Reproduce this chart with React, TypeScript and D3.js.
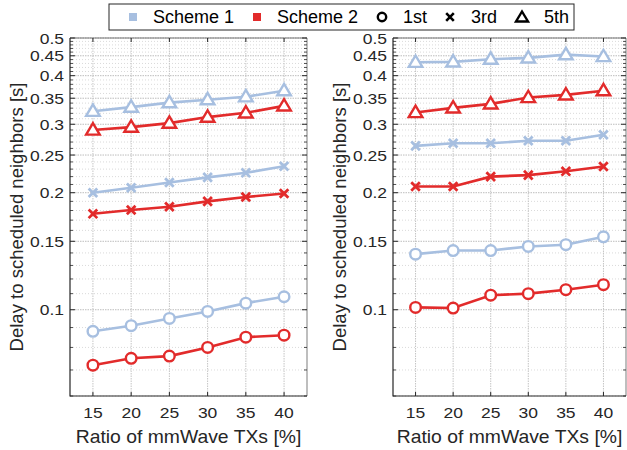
import React from "react";
import * as d3 from "d3";

const ratios = [15, 20, 25, 30, 35, 40];

// left panel
const leftS1First = [0.088, 0.091, 0.095, 0.099, 0.104, 0.108];
const leftS1Third = [0.2, 0.206, 0.2125, 0.219, 0.225, 0.234];
const leftS1Fifth = [0.324, 0.332, 0.341, 0.347, 0.353, 0.366];
const leftS2First = [0.072, 0.075, 0.076, 0.08, 0.085, 0.086];
const leftS2Third = [0.1765, 0.1805, 0.184, 0.19, 0.195, 0.199];
const leftS2Fifth = [0.29, 0.295, 0.302, 0.313, 0.321, 0.3345];

// right panel
const rightS1First = [0.139, 0.142, 0.142, 0.1455, 0.147, 0.154];
const rightS1Third = [0.264, 0.268, 0.268, 0.272, 0.272, 0.282];
const rightS1Fifth = [0.433, 0.434, 0.441, 0.4445, 0.453, 0.448];
const rightS2First = [0.1014, 0.101, 0.109, 0.11, 0.1126, 0.116];
const rightS2Third = [0.2075, 0.2075, 0.22, 0.222, 0.227, 0.2335];
const rightS2Fifth = [0.3216, 0.3306, 0.3385, 0.3514, 0.357, 0.366];

const yTicks = [0.1, 0.15, 0.2, 0.25, 0.3, 0.35, 0.4, 0.45, 0.5];
const yTickLabels = ["0.1", "0.15", "0.2", "0.25", "0.3", "0.35", "0.4", "0.45", "0.5"];
const legendSchemes = ["Scheme 1", "Scheme 2"];
const legendMarkers = ["1st", "3rd", "5th"];

const BLUE = "#a7bfe0";
const RED = "#e22b2b";
const AX = "#262626";
const FONT = "'Liberation Sans', Arial, Helvetica, sans-serif";

// minor ticks every 0.01
const minorTicks = d3
  .range(6, 51)
  .map((d) => d / 100)
  .filter((v) => !yTicks.some((t) => Math.abs(t - v) < 1e-9));

// the original font renders a bit wider than Liberation Sans, so stretch it
const SText = ({ x, y, sx = 1, anchor = "start", size, rotate = 0, dy = "0", children }) => (
  <text
    transform={`translate(${x},${y}) rotate(${rotate}) scale(${sx},1)`}
    textAnchor={anchor}
    fontSize={size}
    dy={dy}
    fill={AX}
  >
    {children}
  </text>
);

const Marker = ({ type, x, y, color, sw = 2.4 }) => {
  if (type === "circle")
    return <circle cx={x} cy={y} r={5.3} fill="#fff" stroke={color} strokeWidth={sw} />;
  if (type === "cross") {
    const s = 4.3;
    return (
      <path
        d={`M${x - s},${y - s}L${x + s},${y + s}M${x - s},${y + s}L${x + s},${y - s}`}
        stroke={color}
        strokeWidth={sw + 0.4}
        fill="none"
      />
    );
  }
  return (
    <path
      d={`M${x},${y - 6.8}L${x + 6.8},${y + 4.6}L${x - 6.8},${y + 4.6}Z`}
      fill="#fff"
      stroke={color}
      strokeWidth={sw}
    />
  );
};

const Panel = ({ left, right, series }) => {
  const top = 38;
  const bottom = 396;
  const x = d3.scaleLinear().domain([12, 43]).range([left, right]);
  const y = d3.scaleLog().domain([0.06, 0.5]).range([bottom, top]);
  const line = d3
    .line<number>()
    .x((_, i) => x(ratios[i]))
    .y((d) => y(d));

  return (
    <g>
      <rect x={left} y={top} width={right - left} height={bottom - top} fill="#fff" />
      {/* minor grid */}
      {minorTicks.map((t) => (
        <line
          key={"m" + t}
          x1={left}
          x2={right}
          y1={y(t)}
          y2={y(t)}
          stroke="#d0d0d0"
          strokeWidth={0.8}
          strokeDasharray="1,2"
        />
      ))}
      {/* major grid */}
      {yTicks.map((t) => (
        <line
          key={"g" + t}
          x1={left}
          x2={right}
          y1={y(t)}
          y2={y(t)}
          stroke="#bdbdbd"
          strokeWidth={1}
          strokeDasharray="1.5,1"
        />
      ))}
      {ratios.map((r) => (
        <line
          key={"gx" + r}
          x1={x(r)}
          x2={x(r)}
          y1={top}
          y2={bottom}
          stroke="#c4c4c4"
          strokeWidth={1}
          strokeDasharray="1.5,1"
        />
      ))}
      {/* series */}
      {series.map((s, i) => (
        <g key={i}>
          <path d={line(s.values)} fill="none" stroke={s.color} strokeWidth={2.6} />
          {s.values.map((v, j) => (
            <Marker key={j} type={s.marker} x={x(ratios[j])} y={y(v)} color={s.color} />
          ))}
        </g>
      ))}
      {/* axes box */}
      <path
        d={`M${left},${top}V${bottom}H${right}`}
        fill="none"
        stroke={AX}
        strokeWidth={1.2}
      />
      <line x1={left} x2={right} y1={top} y2={top} stroke={AX} strokeWidth={0.6} />
      <line x1={right} x2={right} y1={top} y2={bottom} stroke={AX} strokeWidth={0.6} />
      {/* y ticks */}
      {yTicks.map((t) => (
        <g key={"t" + t}>
          <line x1={left} x2={left + 5} y1={y(t)} y2={y(t)} stroke={AX} strokeWidth={1} />
          <line x1={right} x2={right - 5} y1={y(t)} y2={y(t)} stroke={AX} strokeWidth={1} />
        </g>
      ))}
      {minorTicks.map((t) => (
        <g key={"mt" + t}>
          <line x1={left} x2={left + 3} y1={y(t)} y2={y(t)} stroke={AX} strokeWidth={0.8} />
          <line x1={right} x2={right - 3} y1={y(t)} y2={y(t)} stroke={AX} strokeWidth={0.8} />
        </g>
      ))}
      {ratios.map((r) => (
        <g key={"xt" + r}>
          <line x1={x(r)} x2={x(r)} y1={bottom} y2={bottom - 4} stroke={AX} strokeWidth={1} />
          <line x1={x(r)} x2={x(r)} y1={top} y2={top + 4} stroke={AX} strokeWidth={1} />
        </g>
      ))}
      {/* tick labels */}
      {yTicks.map((t, i) => (
        <SText key={"yl" + t} x={left - 6} y={y(t)} dy="0.36em" anchor="end" size={15.5} sx={1.13}>
          {yTickLabels[i]}
        </SText>
      ))}
      {ratios.map((r) => (
        <SText key={"xl" + r} x={x(r)} y={418} anchor="middle" size={15.5} sx={1.13}>
          {r}
        </SText>
      ))}
      <SText x={(left + right) / 2} y={443} anchor="middle" size={18} sx={1.075}>
        Ratio of mmWave TXs [%]
      </SText>
      <SText
        x={left - 47}
        y={(top + bottom) / 2}
        rotate={-90}
        anchor="middle"
        size={18}
        sx={1.03}
      >
        Delay to scheduled neighbors [s]
      </SText>
    </g>
  );
};

const Legend = () => {
  const items = [
    { kind: "square", color: BLUE, label: legendSchemes[0], mx: 133, tx: 153 },
    { kind: "square", color: RED, label: legendSchemes[1], mx: 257, tx: 277 },
    { kind: "circle", color: "#000", label: legendMarkers[0], mx: 382, tx: 403 },
    { kind: "cross", color: "#000", label: legendMarkers[1], mx: 450, tx: 471 },
    { kind: "triangle", color: "#000", label: legendMarkers[2], mx: 522, tx: 544 },
  ];
  const cy = 17;
  return (
    <g>
      <rect x={109} y={4} width={465} height={26} fill="#fff" stroke={AX} strokeWidth={1} />
      {items.map((it) => (
        <g key={it.label}>
          {it.kind === "square" ? (
            <rect x={it.mx - 4} y={cy - 4} width={8} height={8} fill={it.color} />
          ) : it.kind === "circle" ? (
            <circle cx={it.mx} cy={cy} r={4.2} fill="none" stroke="#000" strokeWidth={2.4} />
          ) : it.kind === "cross" ? (
            <path
              d={`M${it.mx - 3.8},${cy - 3.8}L${it.mx + 3.8},${cy + 3.8}M${it.mx - 3.8},${cy + 3.8}L${it.mx + 3.8},${cy - 3.8}`}
              stroke="#000"
              strokeWidth={2.6}
            />
          ) : (
            <path
              d={`M${it.mx},${cy - 5.5}L${it.mx + 6},${cy + 4.5}L${it.mx - 6},${cy + 4.5}Z`}
              fill="none"
              stroke="#000"
              strokeWidth={2.4}
            />
          )}
          <text x={it.tx} y={cy} dy="0.36em" fontSize={18} fill="#000">
            {it.label}
          </text>
        </g>
      ))}
    </g>
  );
};

export default function App() {
  const leftSeries = [
    { values: leftS1Fifth, color: BLUE, marker: "triangle" },
    { values: leftS1Third, color: BLUE, marker: "cross" },
    { values: leftS1First, color: BLUE, marker: "circle" },
    { values: leftS2Fifth, color: RED, marker: "triangle" },
    { values: leftS2Third, color: RED, marker: "cross" },
    { values: leftS2First, color: RED, marker: "circle" },
  ];
  const rightSeries = [
    { values: rightS1Fifth, color: BLUE, marker: "triangle" },
    { values: rightS1Third, color: BLUE, marker: "cross" },
    { values: rightS1First, color: BLUE, marker: "circle" },
    { values: rightS2Fifth, color: RED, marker: "triangle" },
    { values: rightS2Third, color: RED, marker: "cross" },
    { values: rightS2First, color: RED, marker: "circle" },
  ];
  return (
    <svg
      width={627}
      height={450}
      style={{ position: "absolute", left: 0, top: 0, fontFamily: FONT }}
    >
      <rect width={627} height={450} fill="#fff" />
      <Panel left={70} right={307} series={leftSeries} />
      <Panel left={393} right={626} series={rightSeries} />
      <Legend />
    </svg>
  );
}
